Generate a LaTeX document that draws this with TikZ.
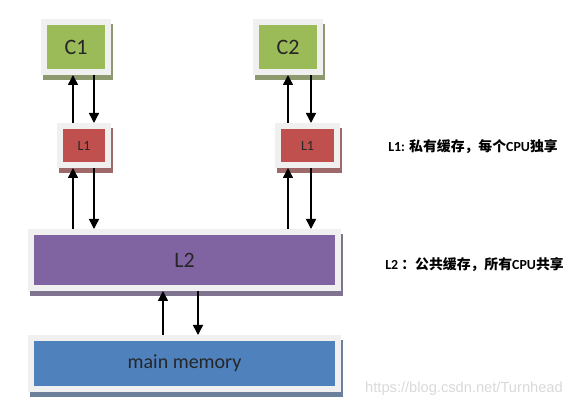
\documentclass[tikz,border=0pt]{standalone}
\usepackage{fontspec}
\setmainfont{Carlito}
\newfontfamily\cjk{Noto Sans CJK SC}
\newfontfamily\wmfont{Liberation Sans}
\usetikzlibrary{arrows.meta,shadows}
\definecolor{framegray}{HTML}{F0F0F0}
\definecolor{cpugreen}{HTML}{9BBB59}
\definecolor{cachered}{HTML}{C0504D}
\definecolor{sharedpurple}{HTML}{8064A2}
\definecolor{memblue}{HTML}{4F81BD}

\begin{document}
\begin{tikzpicture}[x=0.75pt,y=-0.75pt,
  cache/.style={draw=framegray, line width=4.5pt, inner sep=0pt, text=black!85},
  shade/.style={drop shadow={shadow xshift=1.5pt,shadow yshift=-3.75pt,fill=#1,draw=#1,opacity=1}},
  link/.style={line width=1.1pt,-{Triangle[width=7.5pt,length=7.5pt]}},
  note/.style={anchor=west, inner sep=0pt, font=\fontsize{10.4}{12}\selectfont\bfseries}]
  \useasboundingbox (0,0) rectangle (579,416);
  % Cores
  \node[cache, fill=cpugreen, shade=cpugreen!45!gray, minimum width=48pt, minimum height=37.5pt,
        font=\fontsize{16.5}{18}\selectfont] (c1) at (76,47) {C1};
  \node[cache, fill=cpugreen, shade=cpugreen!45!gray, minimum width=48pt, minimum height=37.5pt,
        font=\fontsize{16.5}{18}\selectfont] (c2) at (288,47) {C2};
  % Private caches
  \node[cache, fill=cachered, shade=cachered!45!gray, minimum width=36pt, minimum height=29.25pt,
        font=\fontsize{10.5}{12}\selectfont] (l1a) at (84,145.5) {L1};
  \node[cache, fill=cachered, shade=cachered!45!gray, minimum width=44.25pt, minimum height=29.25pt,
        font=\fontsize{10.5}{12}\selectfont] (l1b) at (307.5,145.5) {L1};
  % Shared cache and memory
  \node[cache, fill=sharedpurple, shade=sharedpurple!45!gray, minimum width=230.25pt, minimum height=42pt,
        font=\fontsize{16.5}{18}\selectfont] (l2) at (184.5,260) {L2};
  \node[cache, fill=memblue, shade=memblue!45!gray, minimum width=230.25pt, minimum height=38.25pt,
        font=\fontsize{15}{17}\selectfont] (mem) at (184.5,363.5) {main memory};

  % C1 <-> L1
  \draw[link] ([xshift=-2.25pt]c1.south |- l1a.north) -- ([xshift=-2.25pt]c1.south);
  \draw[link] ([xshift=13.5pt]c1.south) -- ([xshift=13.5pt]c1.south |- l1a.north);
  % C2 <-> L1
  \draw[link] (c2.south |- l1b.north) -- (c2.south);
  \draw[link] ([xshift=17.25pt]c2.south) -- ([xshift=17.25pt]c2.south |- l1b.north);
  % L1 <-> L2
  \draw[link] ([xshift=-8.25pt]l1a.south |- l2.north) -- ([xshift=-8.25pt]l1a.south);
  \draw[link] ([xshift=7.5pt]l1a.south) -- ([xshift=7.5pt]l1a.south |- l2.north);
  \draw[link] ([xshift=-14.625pt]l1b.south |- l2.north) -- ([xshift=-14.625pt]l1b.south);
  \draw[link] ([xshift=2.625pt]l1b.south) -- ([xshift=2.625pt]l1b.south |- l2.north);
  % L2 <-> memory
  \draw[link] ([xshift=-16.125pt]l2.south |- mem.north) -- ([xshift=-16.125pt]l2.south);
  \draw[link] ([xshift=10.125pt]l2.south) -- ([xshift=10.125pt]l2.south |- mem.north);

  % Notes
  \node[note] (note1) at (388,147) {L1: {\cjk\bfseries 私有缓存，每个}CPU{\cjk\bfseries 独享}};
  \node[note] (note2) at (385,265) {L2 {\cjk\bfseries ：公共缓存，所有}CPU{\cjk\bfseries 共享}};
  \node[text=gray!30, font=\wmfont\fontsize{11}{13}\selectfont, inner sep=0pt] (mark) at (464,389)
    {https://blog.csdn.net/Turnhead};
\end{tikzpicture}
\end{document}
